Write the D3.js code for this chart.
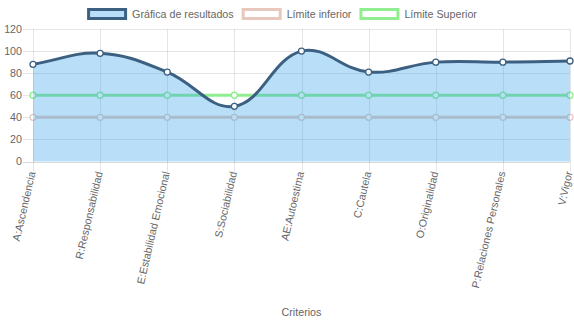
<!DOCTYPE html>
<html><head><meta charset="utf-8">
<script src="https://cdn.jsdelivr.net/npm/d3@7"></script>
<style>html,body{margin:0;padding:0;background:#fff;}svg{display:block;}</style>
</head><body>
<svg id="chart" width="574" height="323"></svg>
<script>
const categories = ["A:Ascendencia","R:Responsabilidad","E:Estabilidad Emocional","S:Sociabilidad","AE:Autoestima","C:Cautela","O:Originalidad","P:Relaciones Personales","V:Vigor"];
const resultados = [88, 98, 81, 50, 100, 81, 90, 90, 91];
const limiteInferior = [40, 40, 40, 40, 40, 40, 40, 40, 40];
const limiteSuperior = [60, 60, 60, 60, 60, 60, 60, 60, 60];
const yTicks = [0, 20, 40, 60, 80, 100, 120];
const seriesNames = ["Gráfica de resultados", "Límite inferior", "Límite Superior"];
const axisTitle = "Criterios";

(function () {
const pLeft = 33, pRight = 570, pTop = 29, pBottom = 161.5;
const font = "Liberation Sans, Arial, Helvetica, sans-serif";
const fs = 10.7;
const txt = "#666";
const grid = "rgba(0,0,0,0.1)";
const colRes = "rgb(60,96,130)";
const fillRes = "rgba(54,162,235,0.35)";
const colInf = "rgb(232,200,188)";
const colSup = "rgb(144,238,144)";

const svg = d3.select("#chart");
const x = d3.scalePoint().domain(categories).range([pLeft, pRight]);
const y = d3.scaleLinear().domain([0, 120]).range([pBottom, pTop]);

const g = svg.append("g");
yTicks.forEach(t => {
  g.append("line").attr("x1", pLeft - 10).attr("x2", pRight).attr("y1", Math.round(y(t)) + 0.5).attr("y2", Math.round(y(t)) + 0.5)
    .attr("stroke", t === 0 ? "rgba(0,0,0,0.15)" : grid).attr("stroke-width", 1);
  g.append("text").attr("x", 22).attr("y", y(t)).attr("dy", "0.35em").attr("text-anchor", "end")
    .attr("font-family", font).attr("font-size", fs).attr("fill", txt).text(t);
});
categories.forEach(c => {
  g.append("line").attr("x1", Math.round(x(c)) + 0.5).attr("x2", Math.round(x(c)) + 0.5).attr("y1", pTop).attr("y2", pBottom + 10)
    .attr("stroke", grid).attr("stroke-width", 1);
  g.append("text").attr("transform", `translate(${x(c) - 1},${pBottom + 10}) rotate(-77)`)
    .attr("text-anchor", "end").attr("dy", "0.35em")
    .attr("font-family", font).attr("font-size", fs).attr("fill", txt).text(c);
});

function splinePoints(vals) {
  const pts = vals.map((v, i) => ({x: x(categories[i]), y: y(v)}));
  const t = 0.4;
  pts.forEach((cur, i) => {
    const prev = pts[i - 1] || cur, next = pts[i + 1] || cur;
    const d01 = Math.hypot(cur.x - prev.x, cur.y - prev.y);
    const d12 = Math.hypot(next.x - cur.x, next.y - cur.y);
    let s01 = d01 / (d01 + d12), s12 = d12 / (d01 + d12);
    if (isNaN(s01)) s01 = 0; if (isNaN(s12)) s12 = 0;
    const fa = t * s01, fb = t * s12;
    cur.cpPrev = {x: cur.x - fa * (next.x - prev.x), y: cur.y - fa * (next.y - prev.y)};
    cur.cpNext = {x: cur.x + fb * (next.x - prev.x), y: cur.y + fb * (next.y - prev.y)};
    [cur.cpPrev, cur.cpNext].forEach(p => { p.y = Math.max(pTop, Math.min(pBottom, p.y)); p.x = Math.max(pLeft, Math.min(pRight, p.x)); });
  });
  return pts;
}
function linePath(pts, close) {
  const p = d3.path();
  p.moveTo(pts[0].x, pts[0].y);
  for (let i = 1; i < pts.length; i++) {
    const a = pts[i - 1], b = pts[i];
    p.bezierCurveTo(a.cpNext.x, a.cpNext.y, b.cpPrev.x, b.cpPrev.y, b.x, b.y);
  }
  if (close) { p.lineTo(pts[pts.length - 1].x, y(0)); p.lineTo(pts[0].x, y(0)); p.closePath(); }
  return p.toString();
}
function drawSeries(vals, color, lw, fill) {
  const pts = splinePoints(vals);
  if (fill) svg.append("path").attr("d", linePath(pts, true)).attr("fill", fill);
  svg.append("path").attr("d", linePath(pts, false)).attr("fill", "none").attr("stroke", color).attr("stroke-width", lw);
  svg.append("g").selectAll("circle").data(pts).join("circle")
    .attr("cx", d => d.x).attr("cy", d => d.y).attr("r", 3)
    .attr("fill", "#fff").attr("stroke", color).attr("stroke-width", 1.3);
}
drawSeries(limiteSuperior, colSup, 3, null);
drawSeries(limiteInferior, colInf, 3, null);
drawSeries(resultados, colRes, 3, fillRes);

const legendItems = [
  {name: seriesNames[0], stroke: colRes, fill: fillRes},
  {name: seriesNames[1], stroke: colInf, fill: "#fff"},
  {name: seriesNames[2], stroke: colSup, fill: "#fff"}
];
const lg = svg.append("g");
const widths = legendItems.map(it => {
  const t = lg.append("text").attr("font-family", font).attr("font-size", fs).text(it.name);
  const w = t.node().getComputedTextLength(); t.remove(); return w;
});
const gap = 8, boxW = 40, boxH = 12;
const total = widths.reduce((s, w) => s + boxW + 5 + w, 0) + gap * (widths.length - 1);
let lx = 282 - total / 2;
legendItems.forEach((it, i) => {
  lg.append("rect").attr("x", lx + 1.5).attr("y", 8 + 1.5).attr("width", boxW - 3).attr("height", boxH - 3)
    .attr("fill", it.fill).attr("stroke", it.stroke).attr("stroke-width", 3);
  lg.append("text").attr("x", lx + boxW + 5).attr("y", 14).attr("dy", "0.35em")
    .attr("font-family", font).attr("font-size", fs).attr("fill", txt).text(it.name);
  lx += boxW + 5 + widths[i] + gap;
});

svg.append("text").attr("x", (pLeft + pRight) / 2).attr("y", 316).attr("text-anchor", "middle")
  .attr("font-family", font).attr("font-size", fs).attr("fill", txt).text(axisTitle);
})();
</script>
</body></html>
